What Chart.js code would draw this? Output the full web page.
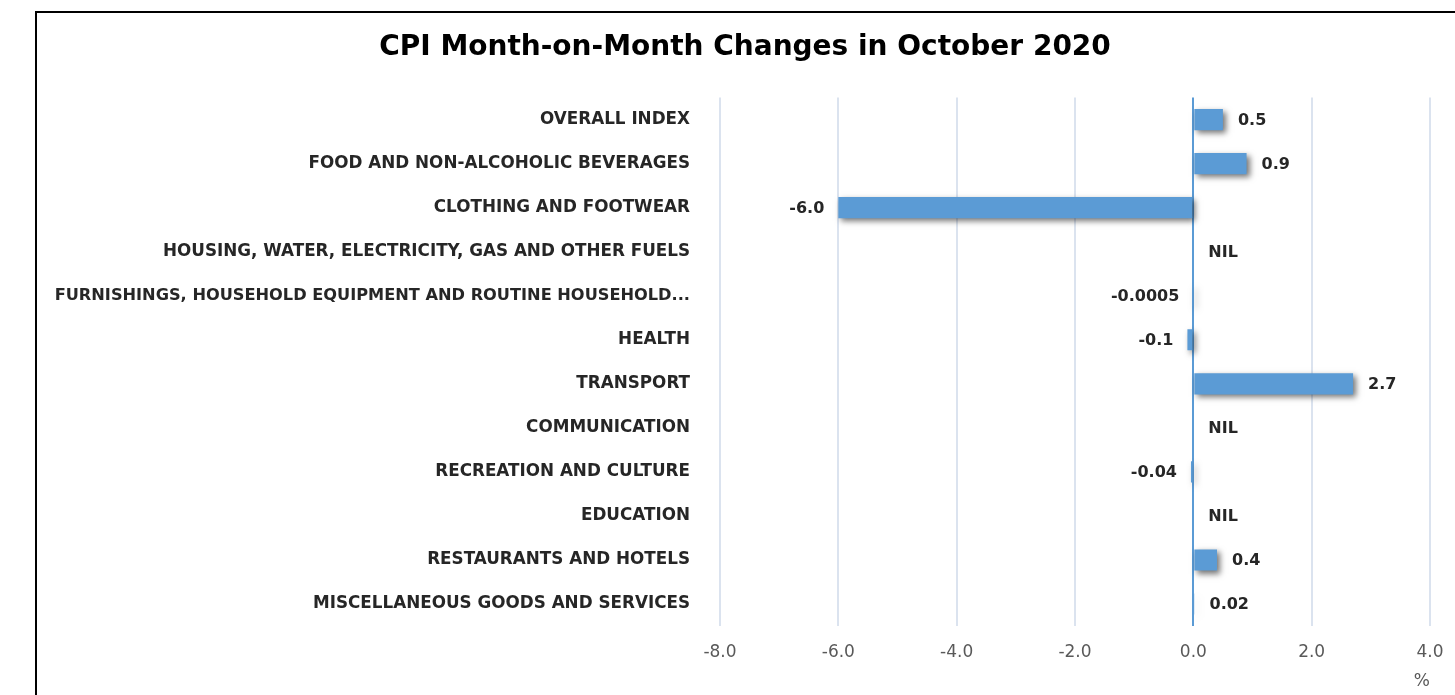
<!DOCTYPE html>
<html>
<head>
<meta charset="utf-8">
<script src="https://cdn.jsdelivr.net/npm/chart.js@4"></script>
<style>
  html, body { margin: 0; padding: 0; background: #fff; overflow: hidden; }
  #wrap { width: 1455px; height: 695px; }
</style>
</head>
<body>
<div id="wrap"><canvas id="cpiChart" width="1455" height="695"></canvas></div>
<script>
// categories, top to bottom
const categories = [
  'OVERALL INDEX',
  'FOOD AND NON-ALCOHOLIC BEVERAGES',
  'CLOTHING AND FOOTWEAR',
  'HOUSING, WATER, ELECTRICITY, GAS AND OTHER FUELS',
  'FURNISHINGS, HOUSEHOLD EQUIPMENT AND ROUTINE HOUSEHOLD...',
  'HEALTH',
  'TRANSPORT',
  'COMMUNICATION',
  'RECREATION AND CULTURE',
  'EDUCATION',
  'RESTAURANTS AND HOTELS',
  'MISCELLANEOUS GOODS AND SERVICES'
];
// month-on-month change, % (null = NIL)
const momChange = [0.5, 0.9, -6.0, null, -0.0005, -0.1, 2.7, null, -0.04, null, 0.4, 0.02];
const valueLabels = ['0.5', '0.9', '-6.0', 'NIL', '-0.0005', '-0.1', '2.7', 'NIL', '-0.04', 'NIL', '0.4', '0.02'];

const FONT = "'DejaVu Sans', 'Open Sans', sans-serif";

// bar drop shadow
const shadowPlugin = {
  id: 'barShadow',
  beforeDatasetsDraw(chart) {
    const ctx = chart.ctx;
    ctx.save();
    ctx.shadowColor = 'rgba(0,0,0,0.55)';
    ctx.shadowBlur = 6;
    ctx.shadowOffsetX = 3;
    ctx.shadowOffsetY = 3;
  },
  afterDatasetsDraw(chart) {
    chart.ctx.restore();
  }
};

// value labels next to bars
const valueLabelPlugin = {
  id: 'valueLabels',
  afterDatasetsDraw(chart) {
    const ctx = chart.ctx;
    const xs = chart.scales.x, ys = chart.scales.y;
    ctx.save();
    ctx.font = 'bold 16px ' + FONT;
    ctx.fillStyle = '#262626';
    ctx.textBaseline = 'middle';
    momChange.forEach((v, i) => {
      const x = xs.getPixelForValue(v === null ? 0 : v);
      const y = ys.getPixelForValue(i) + 1;
      if (v !== null && v < 0) {
        ctx.textAlign = 'right';
        ctx.fillText(valueLabels[i], x - 14, y);
      } else {
        ctx.textAlign = 'left';
        ctx.fillText(valueLabels[i], x + 15, y);
      }
    });
    ctx.restore();
  }
};

// outer frame, and let the long category label run past the axis box
const framePlugin = {
  id: 'frame',
  afterLayout(chart) {
    chart.scales.y.left = 0;
  },
  afterDraw(chart) {
    const ctx = chart.ctx;
    ctx.save();
    ctx.strokeStyle = '#000';
    ctx.lineWidth = 2;
    ctx.strokeRect(36, 12, 1600, 900);
    ctx.restore();
  }
};

new Chart(document.getElementById('cpiChart'), {
  type: 'bar',
  data: {
    labels: categories,
    datasets: [{
      data: momChange,
      backgroundColor: '#5b9bd5',
      borderWidth: 0,
      barPercentage: 0.48,
      categoryPercentage: 1
    }]
  },
  options: {
    indexAxis: 'y',
    responsive: false,
    animation: false,
    layout: { padding: { left: 60, right: 25, top: 0, bottom: 0 } },
    plugins: {
      legend: { display: false },
      tooltip: { enabled: false },
      title: {
        display: true,
        text: 'CPI Month-on-Month Changes in October 2020',
        color: '#000',
        font: { family: FONT, size: 28, weight: 'bold' },
        padding: { top: 31, bottom: 33 }
      }
    },
    scales: {
      x: {
        min: -8,
        max: 4,
        ticks: {
          stepSize: 2,
          color: '#595959',
          font: { family: FONT, size: 17 },
          padding: 16,
          callback: v => v.toFixed(1)
        },
        grid: {
          drawTicks: false,
          lineWidth: 2,
          color: ctx => ctx.tick && ctx.tick.value === 0 ? '#5b9bd5' : '#dbe3ef'
        },
        border: { display: false },
        title: {
          display: true,
          text: '%',
          align: 'end',
          color: '#595959',
          font: { family: FONT, size: 17 },
          padding: { top: 4, bottom: 3 }
        },
        afterFit(scale) {
          scale.height = 69;
          scale.paddingLeft = 0;
          scale.paddingRight = 0;
        }
      },
      y: {
        grid: { display: false },
        border: { display: false },
        ticks: {
          color: '#262626',
          font: c => ({ family: FONT, size: c.index === 4 ? 16.2 : 16.8, weight: 'bold' }),
          padding: 22,
          autoSkip: false
        },
        afterFit(scale) { scale.width = 660; }
      }
    }
  },
  plugins: [shadowPlugin, valueLabelPlugin, framePlugin]
});
</script>
</body>
</html>
